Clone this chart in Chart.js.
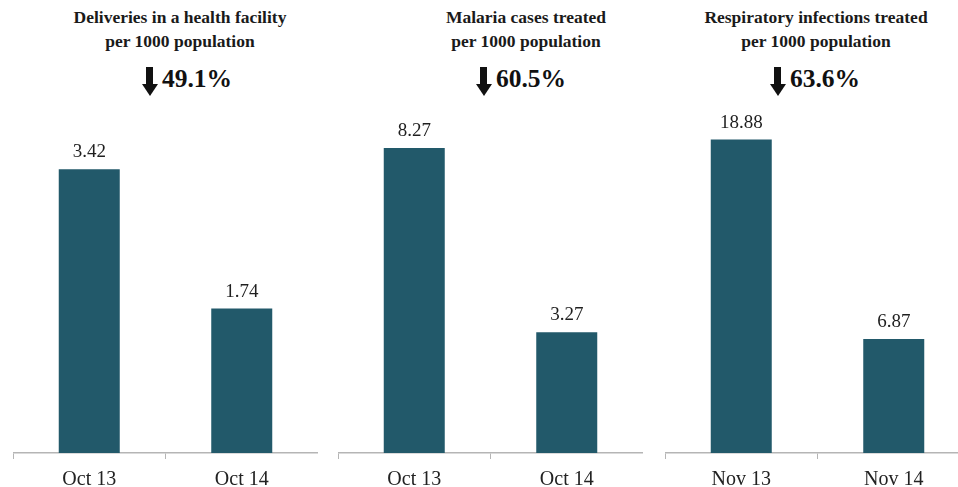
<!DOCTYPE html>
<html>
<head>
<meta charset="utf-8">
<script src="https://cdn.jsdelivr.net/npm/chart.js@4"></script>
<style>
  html, body { margin:0; padding:0; width:958px; height:487px; overflow:hidden; background:#fff; }
  .panel { position:absolute; top:0; width:305px; height:501px; }
  .title { position:absolute; top:5px; width:320px; text-align:center; font-family:"Liberation Serif", "Times New Roman", serif; font-weight:bold; font-size:17.5px; line-height:24px; color:#1a1a1a; }
  .change { position:absolute; top:61px; width:200px; display:flex; justify-content:center; align-items:center; font-family:"Liberation Serif", "Times New Roman", serif; font-weight:bold; font-size:25.5px; color:#111; }
  .arrow { position:relative; width:16px; height:29px; margin-right:4px; margin-top:6px; }
  .arrow .shaft { position:absolute; left:4.5px; top:0; width:7px; height:18px; background:#111; }
  .arrow .head { position:absolute; left:0; top:17px; width:0; height:0; border-left:8px solid transparent; border-right:8px solid transparent; border-top:12px solid #111; }
</style>
</head>
<body>
<script>
// ---- data ----
const titles1 = ["Deliveries in a health facility", "per 1000 population"];
const titles2 = ["Malaria cases treated", "per 1000 population"];
const titles3 = ["Respiratory infections treated", "per 1000 population"];
const changes = ["49.1%", "60.5%", "63.6%"];
const categories1 = ["Oct 13", "Oct 14"];
const categories2 = ["Oct 13", "Oct 14"];
const categories3 = ["Nov 13", "Nov 14"];
const deliveries = [3.42, 1.74];
const malaria = [8.27, 3.27];
const respiratory = [18.88, 6.87];
const axisMax = [4, 9, 20];

// ---- layout ----
const panelLeft = [13, 338, 665];
const titleCenter = [180, 526, 816];
const changeCenter = [187, 521, 815];
const BAR = '#22596a';
const FONT = '"Liberation Serif", "Times New Roman", serif';

const valueLabels = {
  id: 'valueLabels',
  afterDatasetsDraw(chart) {
    const ctx = chart.ctx;
    const ds = chart.data.datasets[0];
    const meta = chart.getDatasetMeta(0);
    ctx.save();
    ctx.font = '19px ' + FONT;
    ctx.fillStyle = '#1f1f1f';
    ctx.textAlign = 'center';
    ctx.textBaseline = 'middle';
    meta.data.forEach((bar, i) => {
      ctx.fillText(ds.data[i].toFixed(2), bar.x, bar.y - 17);
    });
    ctx.restore();
  }
};

function makePanel(idx, titleLines, cats, vals, max) {
  const t = document.createElement('div');
  t.className = 'title';
  t.style.left = (titleCenter[idx] - 160) + 'px';
  t.innerHTML = titleLines.join('<br>');
  document.body.appendChild(t);

  const c = document.createElement('div');
  c.className = 'change';
  c.style.left = (changeCenter[idx] - 100) + 'px';
  c.innerHTML = '<div class="arrow"><div class="shaft"></div><div class="head"></div></div><span>' + changes[idx] + '</span>';
  document.body.appendChild(c);

  const wrap = document.createElement('div');
  wrap.className = 'panel';
  wrap.style.left = panelLeft[idx] + 'px';
  const cv = document.createElement('canvas');
  wrap.appendChild(cv);
  document.body.appendChild(wrap);

  new Chart(cv, {
    type: 'bar',
    data: {
      labels: cats,
      datasets: [{ data: vals, backgroundColor: BAR, borderWidth: 0, barPercentage: 0.4, categoryPercentage: 1 }]
    },
    options: {
      responsive: true,
      maintainAspectRatio: false,
      animation: false,
      events: [],
      layout: { padding: { top: 121, left: 0, right: 0, bottom: 0 } },
      plugins: { legend: { display: false }, tooltip: { enabled: false } },
      scales: {
        y: { display: false, min: 0, max: max },
        x: {
          offset: true,
          grid: { offset: true, drawOnChartArea: false, drawTicks: true, tickLength: 6, color: '#b5b5b5', lineWidth: 1 },
          border: { display: true, color: '#b5b5b5', width: 1.5 },
          ticks: { padding: 9, color: '#222', font: { family: FONT, size: 20 } }
        }
      }
    },
    plugins: [valueLabels]
  });
}

makePanel(0, titles1, categories1, deliveries, axisMax[0]);
makePanel(1, titles2, categories2, malaria, axisMax[1]);
makePanel(2, titles3, categories3, respiratory, axisMax[2]);
</script>
</body>
</html>
